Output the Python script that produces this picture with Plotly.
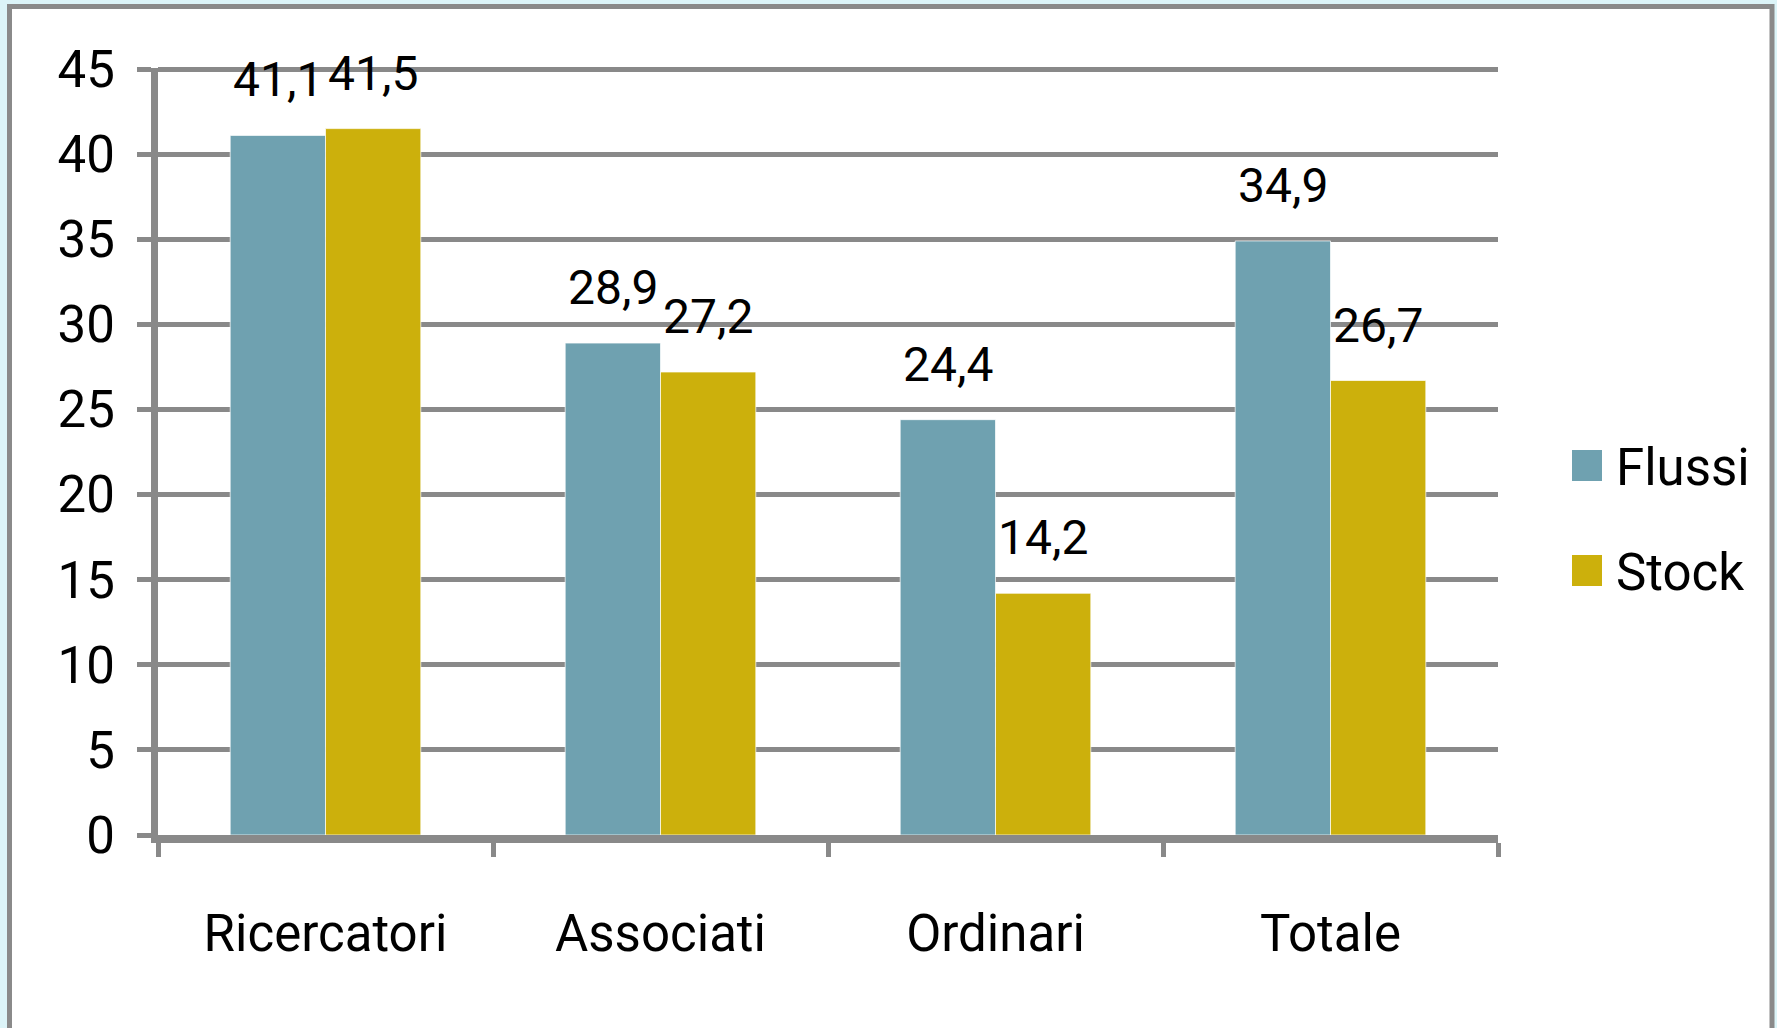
import plotly.graph_objects as go

# ---- data ----
categories = ["Ricercatori", "Associati", "Ordinari", "Totale"]
series_names = ["Flussi", "Stock"]
flussi = [41.1, 28.9, 24.4, 34.9]
stock = [41.5, 27.2, 14.2, 26.7]
y_ticks = [0, 5, 10, 15, 20, 25, 30, 35, 40, 45]

# ---- style ----
W, H = 1777, 1028
L, R, T, B = 158, 1498, 68, 835
PW, PH = R - L, B - T
FONT = "Roboto, Liberation Sans, sans-serif"
FS = 51
FS_LBL = 48
GRAY = "#898989"
colors = ["#6FA1B0", "#CCB00C"]
BARGAP = 0.431


def px2x(px):
    return (px - L) / PW


def py2y(py):
    return (B - py) / PH


def fmt(v):
    return f"{v:.1f}".replace(".", ",")


fig = go.Figure()
for name, vals, col in zip(series_names, [flussi, stock], colors):
    fig.add_trace(go.Bar(
        x=categories, y=vals, name=name,
        marker=dict(color=col, line=dict(color="rgba(255,255,255,0.7)", width=1)),
        showlegend=False,
    ))

# data labels
cat_w = PW / len(categories)
bar_w = cat_w * (1 - BARGAP) / 2
annotations = []
for i, vals in enumerate([flussi, stock]):
    shift = (i - 0.5) * bar_w
    for c, v in zip(categories, vals):
        annotations.append(dict(
            x=c, y=v, xref="x", yref="y", text=fmt(v), showarrow=False,
            xanchor="center", yanchor="bottom", xshift=shift, yshift=25,
            font=dict(family=FONT, size=FS_LBL, color="black"),
        ))

# manual legend
shapes = [
    dict(type="rect", xref="paper", yref="paper", layer="below",
         x0=px2x(9.5), x1=px2x(1772), y0=py2y(1045), y1=py2y(6.5),
         fillcolor="white", line=dict(color="#8A8A8A", width=5)),
]
leg_tops = [450, 555]
for name, col, top in zip(series_names, colors, leg_tops):
    shapes.append(dict(type="rect", xref="paper", yref="paper",
                       x0=px2x(1572), x1=px2x(1602), y0=py2y(top + 31), y1=py2y(top),
                       fillcolor=col, line=dict(width=0)))
    annotations.append(dict(
        x=px2x(1614), y=py2y(top + 17), xref="paper", yref="paper", text=name,
        showarrow=False, xanchor="left", yanchor="middle",
        font=dict(family=FONT, size=FS, color="black"),
    ))

fig.update_layout(
    width=W, height=H,
    margin=dict(l=L, r=W - R, t=T, b=H - B, pad=0),
    paper_bgcolor="#DCF4F8",
    plot_bgcolor="white",
    barmode="group", bargap=BARGAP, bargroupgap=0,
    font=dict(family=FONT, size=FS, color="black"),
    shapes=shapes, annotations=annotations,
    showlegend=False,
    xaxis=dict(
        type="category", showline=True, linecolor=GRAY, linewidth=8,
        ticks="outside", tickson="boundaries", ticklen=14, tickwidth=5, tickcolor=GRAY,
        showgrid=False, ticklabelstandoff=47,
        tickfont=dict(family=FONT, size=FS, color="black"),
    ),
    yaxis=dict(
        range=[0, 45.06], tickvals=y_ticks, showline=True, linecolor=GRAY, linewidth=7,
        ticks="outside", ticklen=14, tickwidth=5, tickcolor=GRAY,
        showgrid=True, gridcolor=GRAY, gridwidth=5, zeroline=False,
        ticklabelstandoff=12,
        tickfont=dict(family=FONT, size=FS, color="black"),
    ),
)

fig.write_html("out.html")
